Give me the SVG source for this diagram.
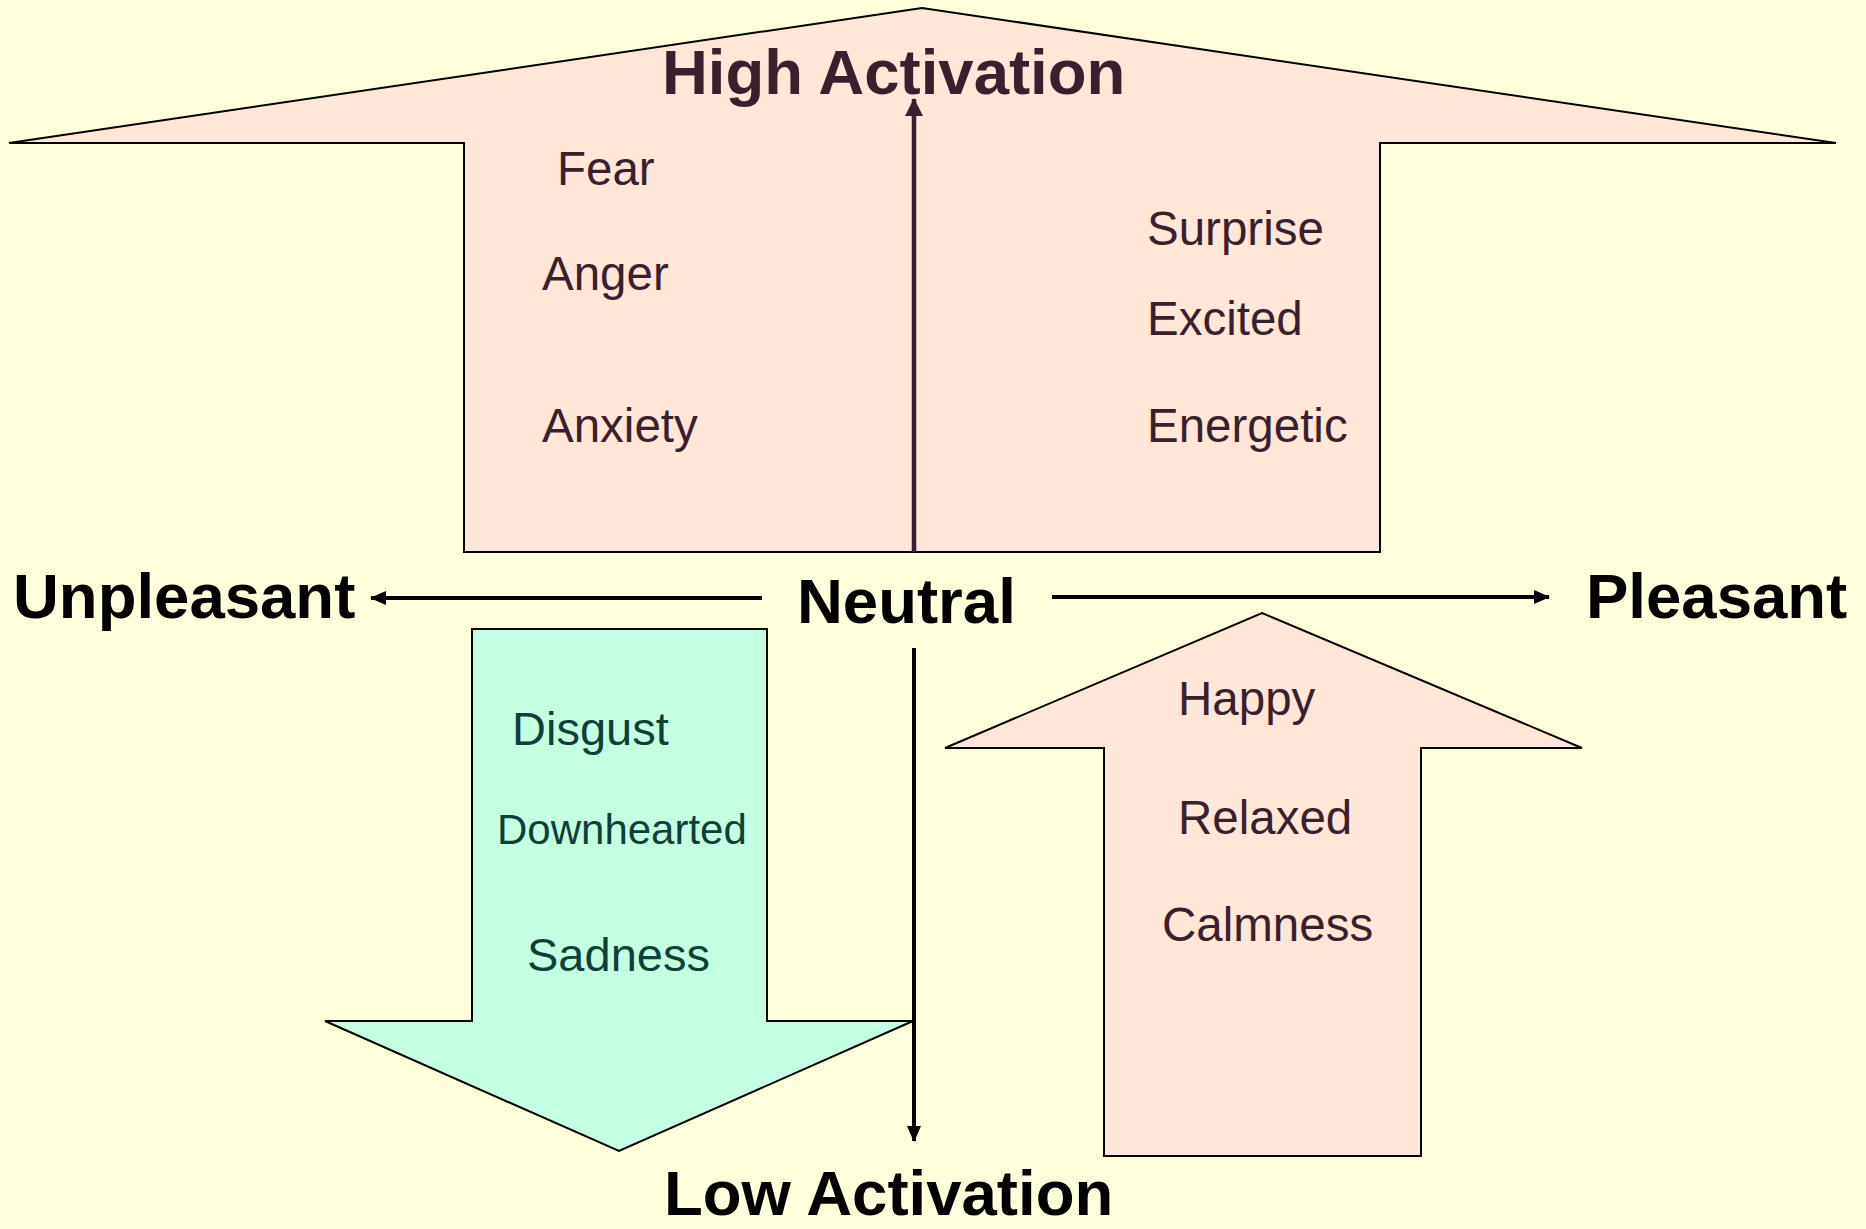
<svg xmlns="http://www.w3.org/2000/svg" width="1866" height="1229" viewBox="0 0 1866 1229">
<defs>
<style>
.bg{fill:#FFFFDB}
.pink{fill:#FFE6D6;stroke:#000;stroke-width:2}
.green{fill:#C5FFE1;stroke:#000;stroke-width:2}
.big{font-family:"Liberation Sans",Arial,sans-serif;font-weight:bold;font-size:63.5px;fill:#000}
.em{font-family:"Liberation Sans",Arial,sans-serif;font-size:47.5px;fill:#3A1F2E}
.emg{font-family:"Liberation Sans",Arial,sans-serif;font-size:47px;fill:#0E3F38}
.ax{stroke:#000;stroke-width:4;fill:none}
</style>
<marker id="ah" viewBox="0 0 16 14" refX="15" refY="7" markerWidth="16" markerHeight="14" markerUnits="userSpaceOnUse" orient="auto">
<path d="M0,0 L16,7 L0,14 z" fill="#000"/>
</marker>
<marker id="ahp" viewBox="0 0 18 18" refX="17" refY="9" markerWidth="18" markerHeight="18" markerUnits="userSpaceOnUse" orient="auto">
<path d="M0,0 L18,9 L0,18 z" fill="#3A1F2E"/>
</marker>
</defs>
<rect class="bg" x="0" y="0" width="1866" height="1229"/>

<g id="high-arrow">
<path class="pink" d="M922,8 L1836,143 L1380,143 L1380,552 L464,552 L464,143 L9,143 Z"/>
</g>
<g id="low-arrow">
<path class="green" d="M472,629 L767,629 L767,1021 L913,1021 L619,1151 L325,1021 L472,1021 Z"/>
</g>
<g id="pleasant-low-arrow">
<path class="pink" d="M1262,613 L1582,748 L1421,748 L1421,1156 L1104,1156 L1104,748 L945,748 Z"/>
</g>

<g id="connectors">
<line x1="914" y1="552" x2="914" y2="99" stroke="#3A1F2E" stroke-width="4.5" marker-end="url(#ahp)"/>
<line class="ax" x1="914" y1="648" x2="914" y2="1141" marker-end="url(#ah)"/>
<line class="ax" x1="762" y1="598" x2="371" y2="598" marker-end="url(#ah)"/>
<line class="ax" x1="1052" y1="597" x2="1549" y2="597" marker-end="url(#ah)"/>
</g>

<g id="label-high"><text class="big" x="662" y="94" style="fill:#3A1F2E">High Activation</text></g>
<g id="label-low"><text class="big" x="664" y="1215">Low Activation</text></g>
<g id="label-unpleasant"><text class="big" x="13" y="618">Unpleasant</text></g>
<g id="label-neutral"><text class="big" x="797" y="623">Neutral</text></g>
<g id="label-pleasant"><text class="big" x="1586" y="618">Pleasant</text></g>

<g id="emotions-high-unpleasant">
<text class="em" x="557" y="185">Fear</text>
<text class="em" x="542" y="290">Anger</text>
<text class="em" x="542" y="442">Anxiety</text>
</g>
<g id="emotions-high-pleasant">
<text class="em" x="1147" y="245">Surprise</text>
<text class="em" x="1147" y="335">Excited</text>
<text class="em" x="1147" y="442">Energetic</text>
</g>
<g id="emotions-low-unpleasant">
<text class="emg" x="512" y="745">Disgust</text>
<text class="emg" x="497" y="844" style="font-size:42px">Downhearted</text>
<text class="emg" x="527" y="971">Sadness</text>
</g>
<g id="emotions-low-pleasant">
<text class="em" x="1178" y="715">Happy</text>
<text class="em" x="1178" y="834">Relaxed</text>
<text class="em" x="1162" y="941">Calmness</text>
</g>
</svg>
